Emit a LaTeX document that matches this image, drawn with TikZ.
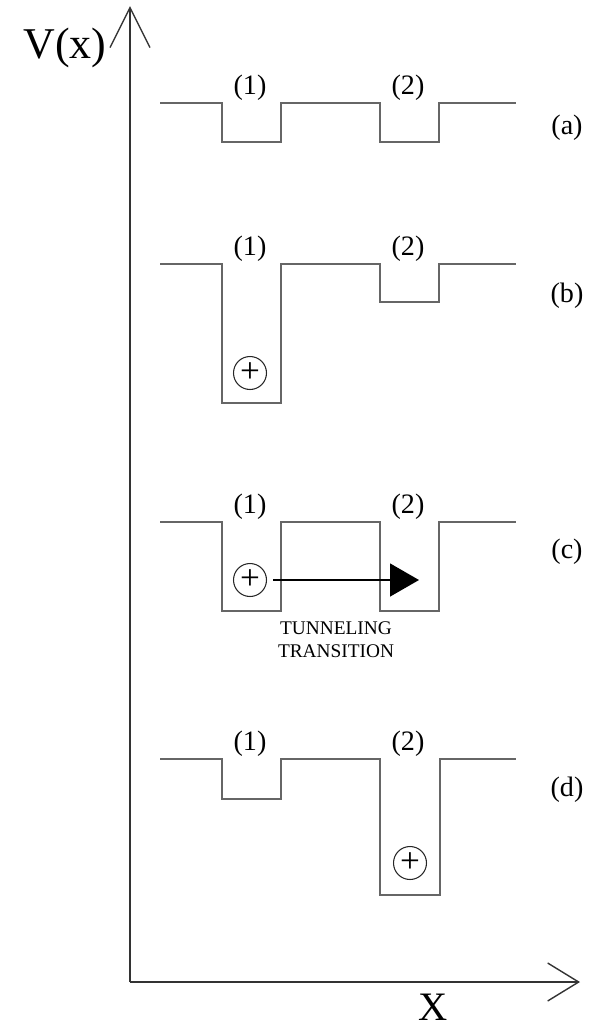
\documentclass[tikz,border=0pt]{standalone}
\usepackage{fontspec}
\setmainfont{Liberation Serif}
\usetikzlibrary{arrows.meta}
\begin{document}
\begin{tikzpicture}[x=0.02cm,y=-0.02cm,axis/.style={black!80, line width=0.8pt},pot/.style={black!60, line width=1pt},lbl/.style={font=\fontsize{16}{16}\selectfont, inner sep=0pt},charge/.style={circle, draw=black!85, line width=0.6pt, minimum size=0.66cm, inner sep=0pt, font=\fontsize{20}{20}\selectfont},note/.style={font=\fontsize{11}{13}\selectfont, align=center, inner sep=0pt}]
\useasboundingbox (0,0) rectangle (592,1032);
% axes
\coordinate (origin) at (130,982); \coordinate (vtop) at (130,6); \coordinate (xend) at (580,982);
\draw[axis, -{Straight Barb[length=0.8cm, width=0.8cm]}] (origin) -- (vtop);
\draw[axis, -{Straight Barb[length=0.62cm, width=0.76cm]}] (origin) -- (xend);
\node[font=\fontsize{25}{25}\selectfont, inner sep=0pt] (vlabel) at (65,48) {V(x)};
\node[font=\fontsize{23}{23}\selectfont, inner sep=0pt] (xlabel) at (433,1007) {X};
% (a)
\draw[pot] (160,103) -- (222,103) -- (222,142) -- (281,142) -- (281,103) -- (380,103) -- (380,142) -- (439,142) -- (439,103) -- (516,103);
\node[lbl] (a1) at (250,88) {(1)}; \node[lbl] (a2) at (408,88) {(2)}; \node[lbl] (ta) at (567,128) {(a)};
% (b)
\draw[pot] (160,264) -- (222,264) -- (222,403) -- (281,403) -- (281,264) -- (380,264) -- (380,302) -- (439,302) -- (439,264) -- (516,264);
\node[lbl] (b1) at (250,249) {(1)}; \node[lbl] (b2) at (408,249) {(2)}; \node[lbl] (tb) at (567,296) {(b)};
\node[charge] (qb) at (250,373) {+};
% (c)
\draw[pot] (160,522) -- (222,522) -- (222,611) -- (281,611) -- (281,522) -- (380,522) -- (380,611) -- (439,611) -- (439,522) -- (516,522);
\node[lbl] (c1) at (250,507) {(1)}; \node[lbl] (c2) at (408,507) {(2)}; \node[lbl] (tc) at (567,552) {(c)};
\node[charge] (qc) at (250,580) {+};
\coordinate (tip) at (419,580);
\draw[black, line width=0.8pt, -{Triangle[length=0.58cm, width=0.66cm]}] ([xshift=0.12cm]qc.east) -- (tip);
\node[note] (tunnel) at (336,640) {TUNNELING\\TRANSITION};
% (d)
\draw[pot] (160,759) -- (222,759) -- (222,799) -- (281,799) -- (281,759) -- (380,759) -- (380,895) -- (440,895) -- (440,759) -- (516,759);
\node[lbl] (d1) at (250,744) {(1)}; \node[lbl] (d2) at (408,744) {(2)}; \node[lbl] (td) at (567,790) {(d)};
\node[charge] (qd) at (410,863) {+};
\end{tikzpicture}
\end{document}
